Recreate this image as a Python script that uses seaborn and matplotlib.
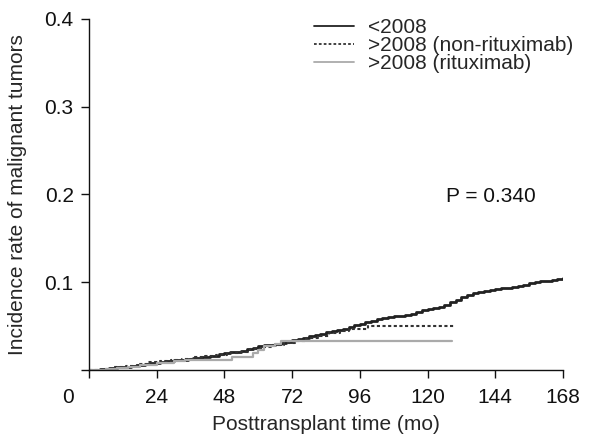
import matplotlib
matplotlib.use("Agg")
import matplotlib.pyplot as plt
import pandas as pd
import seaborn as sns

# cumulative incidence step curves
x_pre = [0, 4, 7, 10, 12, 15, 17, 20, 22, 25, 27, 30, 32, 35, 37, 40, 43, 46,
         48, 50, 52, 54, 56, 58, 60, 62, 64, 66, 68, 70, 72, 74, 76, 78, 80,
         82, 84, 86, 88, 90, 92, 94, 96, 98, 100, 102, 104, 106, 108, 110, 112,
         114, 116, 118, 120, 122, 124, 126, 128, 130, 132, 134, 136, 138, 140,
         142, 144, 146, 148, 150, 152, 154, 156, 158, 160, 162, 164, 166, 168]
y_pre = [0, 0.001, 0.002, 0.003, 0.004, 0.005, 0.006, 0.007, 0.008, 0.009,
         0.010, 0.011, 0.012, 0.013, 0.014, 0.015, 0.016, 0.018, 0.019, 0.020,
         0.021, 0.022, 0.024, 0.025, 0.027, 0.028, 0.029, 0.030, 0.031, 0.032,
         0.034, 0.035, 0.037, 0.039, 0.040, 0.041, 0.043, 0.044, 0.046, 0.047,
         0.049, 0.051, 0.053, 0.055, 0.056, 0.058, 0.059, 0.060, 0.061, 0.062,
         0.063, 0.064, 0.066, 0.068, 0.070, 0.071, 0.072, 0.074, 0.077, 0.080,
         0.083, 0.086, 0.088, 0.089, 0.090, 0.091, 0.092, 0.093, 0.094, 0.095,
         0.096, 0.097, 0.099, 0.100, 0.101, 0.102, 0.103, 0.104, 0.105]

x_nonrit = [0, 5, 9, 13, 17, 21, 25, 29, 33, 37, 41, 45, 49, 53, 57, 61, 65,
            69, 73, 77, 81, 85, 89, 92, 99, 129.5]
y_nonrit = [0, 0.001, 0.003, 0.005, 0.007, 0.009, 0.010, 0.012, 0.013, 0.015,
            0.016, 0.017, 0.019, 0.021, 0.024, 0.026, 0.029, 0.031, 0.033,
            0.036, 0.039, 0.042, 0.045, 0.047, 0.050, 0.050]

x_rit = [0, 6, 10, 14, 18, 24, 30, 34, 50.7, 58, 60, 62, 66, 68, 128.6]
y_rit = [0, 0.001, 0.002, 0.004, 0.006, 0.008, 0.010, 0.011, 0.015, 0.019,
         0.023, 0.027, 0.030, 0.033, 0.033]

labels = ["<2008", ">2008 (non-rituximab)", ">2008 (rituximab)"]
x_ticks = [0, 24, 48, 72, 96, 120, 144, 168]
y_ticks = [0, 0.1, 0.2, 0.3, 0.4]
p_text = "P = 0.340"

sns.set_style("ticks")
plt.rcParams["font.family"] = ["Liberation Sans", "DejaVu Sans"]
fs = 15

fig = plt.figure(figsize=(5.94, 4.4), dpi=100)
ax = fig.add_axes([0.1498, 0.159, 0.798, 0.798])

series = [
    (x_pre, y_pre, labels[0], "#222222", "-", 2.0),
    (x_nonrit, y_nonrit, labels[1], "#333333", (0, (1.5, 1.2)), 1.5),
    (x_rit, y_rit, labels[2], "#aaaaaa", "-", 1.6),
]
for xs, ys, lab, col, ls, lw in series:
    df = pd.DataFrame({"t": xs, "v": ys})
    sns.lineplot(data=df, x="t", y="v", ax=ax, color=col, linestyle=ls,
                 linewidth=lw, drawstyle="steps-post", label=lab)

ax.set_xlim(0, 168)
ax.set_ylim(0, 0.4)
ax.set_xticks(x_ticks)
ax.set_xticklabels([""] + [str(t) for t in x_ticks[1:]])
ax.set_yticks(y_ticks)
ax.set_yticklabels([""] + [f"{t:.1f}" for t in y_ticks[1:]])
ax.tick_params(labelsize=fs, length=6, width=1, colors="#111111")
ax.tick_params(axis="x", pad=7)
ax.tick_params(axis="y", pad=5)
ax.spines["top"].set_visible(False)
ax.spines["right"].set_visible(False)
for s in ("left", "bottom"):
    ax.spines[s].set_linewidth(1)
    ax.spines[s].set_color("#111111")
ax.text(-0.044, -0.077, "0", transform=ax.transAxes, fontsize=fs,
        ha="center", va="center", color="#111111")

ax.set_xlabel("Posttransplant time (mo)", fontsize=fs, labelpad=6)
ax.set_ylabel("Incidence rate of malignant tumors", fontsize=fs, labelpad=13)

ax.text(126.5, 0.198, p_text, fontsize=fs, ha="left", va="center",
        color="#111111")

leg = ax.legend(loc="upper left", bbox_to_anchor=(0.458, 1.025),
                frameon=False, fontsize=fs, handlelength=1.9,
                handletextpad=0.65, labelspacing=-0.05, borderaxespad=0)
for h in leg.get_lines():
    h.set_linewidth(1.3)

fig.savefig("out.png", dpi=100)
plt.close(fig)
